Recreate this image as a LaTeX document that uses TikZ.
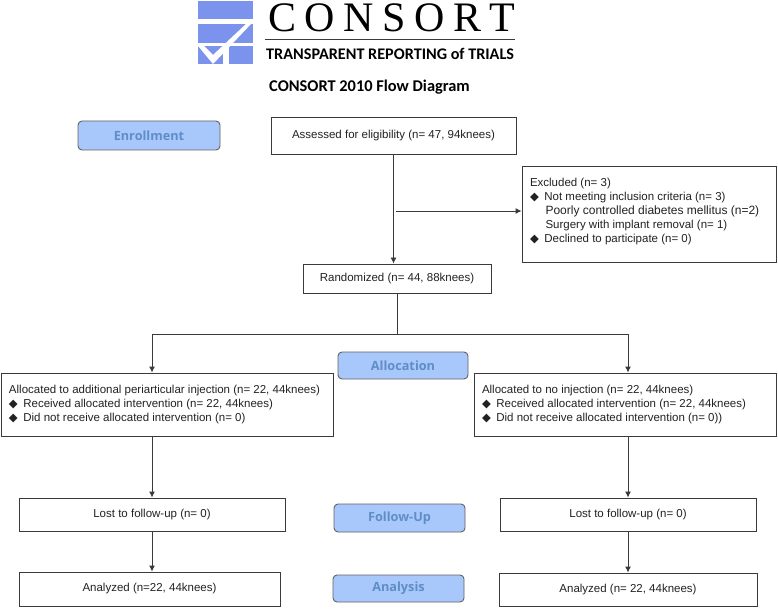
\documentclass[tikz,border=0pt]{standalone}
\usepackage{fontspec}
\setmainfont{Liberation Sans}
\newfontfamily\logoserif{Liberation Serif}
\newfontfamily\logosans{Carlito}
\newfontfamily\phasefont{Open Sans}
\newfontfamily\symfont{DejaVu Sans}
\usetikzlibrary{calc,arrows.meta}
\definecolor{logoblue}{HTML}{7C93EE}
\definecolor{phasefill}{HTML}{A8C8FC}
\definecolor{phasetext}{HTML}{5F8DC8}
\definecolor{boxline}{HTML}{3A3A3A}
\definecolor{boxtext}{HTML}{222222}
\def\Bul{{\symfont\char"25C6}\hspace{5.5pt}}
\def\Ind{\hspace*{15.5pt}}
\tikzset{x=1pt, y=-1pt,
    flow box/.style={draw=boxline, line width=0.9pt, fill=white, inner sep=0pt, text=boxtext,
          font=\fontsize{11.5}{14}\selectfont},
    list box/.style={flow box, align=left},
    phase box/.style={draw=boxline!80, line width=0.9pt, fill=phasefill, rounded corners=4pt,
          inner sep=0pt, text=phasetext, font=\phasefont\fontsize{12.7}{14}\selectfont\bfseries},
    flow line/.style={draw=boxline, line width=0.9pt},
    flow arrow/.style={flow line, -{Latex[length=6pt,width=6pt]}},
    logo bar/.style={fill=logoblue, draw=none}
    }
% FlowBox: name, left, top, right, bottom, text
\def\FlowBox#1#2#3#4#5#6{%
\node[flow box, minimum width=#4-#2, minimum height=#5-#3] (#1) at ({(#2+#4)/2},{(#3+#5)/2}) {#6};
}
\def\ListBox#1#2#3#4#5#6{%
\node[list box, minimum width=#4-#2, minimum height=#5-#3] (#1) at ({(#2+#4)/2},{(#3+#5)/2}) {\begin{minipage}{\dimexpr#4pt-#2pt-16pt\relax}\raggedright #6\end{minipage}};
}
\def\PhaseBox#1#2#3#4#5#6{%
\node[phase box, minimum width=#4-#2, minimum height=#5-#3] (#1) at ({(#2+#4)/2},{(#3+#5)/2}) {#6};
}
\begin{document}
\begin{tikzpicture}
\useasboundingbox (0,0) rectangle (778,609);
% logo
\fill[logo bar] (198,1) rectangle (253,19);
\fill[logo bar] (198,24) rectangle (253,43);
\fill[logo bar] (198,46) rectangle (223,64);
\fill[logo bar] (229,46) rectangle (253,64);
\fill[white] (198,46) -- (204,46) -- (213,55) -- (247,23) -- (252,23) -- (213,64) -- cycle;
\node[inner sep=0pt, anchor=base west] (logotext) at (268,31.5)
   {\logoserif\fontsize{42}{42}\selectfont C\hspace{8.5pt}O\hspace{8.5pt}N\hspace{8.5pt}S\hspace{8.5pt}O\hspace{8.5pt}R\hspace{8.5pt}T};
\draw[line width=1pt, boxline] (265,39.5) -- (515,39.5);
\node[inner sep=0pt, anchor=base west] (logosub) at (266,60)
   {\logosans\fontsize{16.2}{18}\selectfont\bfseries TRANSPARENT REPORTING of TRIALS};
\node[inner sep=0pt, anchor=base west] (title) at (269,92)
   {\logosans\fontsize{16.4}{18}\selectfont\bfseries CONSORT 2010 Flow Diagram};
% phases
\PhaseBox{enroll}{78}{121}{220}{150}{Enrollment}
\PhaseBox{alloc}{338}{352}{468}{379}{Allocation}
\PhaseBox{follow}{334}{504}{465}{532}{Follow-Up}
\PhaseBox{analysis}{333}{575}{464}{602}{Analysis}
% boxes
\FlowBox{assess}{271}{117}{516}{154}{Assessed for eligibility (n= 47, 94knees)}
\ListBox{excl}{522}{166}{776}{262}{Excluded (n= 3)\\
\Bul Not meeting inclusion criteria (n= 3)\\
\Ind {\fontsize{12}{14}\selectfont Poorly controlled diabetes mellitus (n=2)}\\
\Ind Surgery with implant removal  (n= 1)\\
\Bul Declined to participate (n= 0)\rule[-8pt]{0pt}{8pt}}
\FlowBox{rand}{303}{264}{491}{293}{Randomized (n= 44, 88knees)}
\ListBox{allocleft}{1}{373}{333}{436}{Allocated to additional periarticular injection (n= 22, 44knees)\\
\Bul Received allocated intervention (n= 22, 44knees)\\
\Bul Did not receive allocated intervention (n= 0)}
\ListBox{allocright}{474}{373}{776}{436}{Allocated to no injection (n= 22, 44knees)\\
\Bul Received allocated intervention (n= 22, 44knees)\\
\Bul Did not receive allocated intervention (n= 0))}
\FlowBox{lostleft}{19}{498}{285}{531}{Lost to follow-up (n= 0)}
\FlowBox{lostright}{500}{498}{756}{531}{Lost to follow-up (n= 0)}
\FlowBox{analeft}{19}{572}{280}{606}{Analyzed (n=22, 44knees)}
\FlowBox{anaright}{499}{573}{757}{606}{Analyzed (n= 22, 44knees)}
% connectors
\coordinate (branch) at (396,211);
\coordinate (split) at (397,334);
\draw[flow arrow] (assess.south) -- (assess.south |- rand.north);
\draw[flow arrow] (branch) -- (branch -| excl.west);
\draw[flow line] (rand.south) -- (split);
\draw[flow arrow] (split) -| (lostleft.north |- allocleft.north);
\draw[flow arrow] (split) -| (lostright.north |- allocright.north);
\draw[flow arrow] (lostleft.north |- allocleft.south) -- (lostleft.north);
\draw[flow arrow] (lostright.north |- allocright.south) -- (lostright.north);
\draw[flow arrow] (lostleft.south) -- (lostleft.south |- analeft.north);
\draw[flow arrow] (lostright.south) -- (lostright.south |- anaright.north);
\end{tikzpicture}
\end{document}
